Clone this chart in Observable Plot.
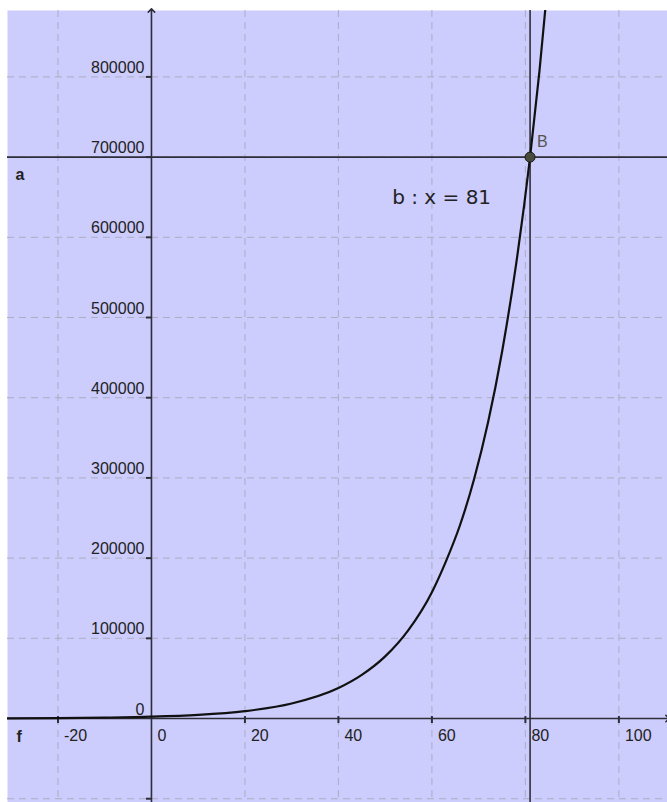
<!DOCTYPE html>
<html><head><meta charset="utf-8">
<script src="https://cdn.jsdelivr.net/npm/d3@7"></script>
<script src="https://cdn.jsdelivr.net/npm/@observablehq/plot@0.6"></script>
<style>body{margin:0;background:#fff;}</style>
</head><body><div id="chart"></div>
<script>
// curve f
const curveX = [-31, -20, -10, 0, 10, 20, 30, 40, 45, 50, 55, 60, 63, 66, 69, 72, 75, 78, 81, 83, 85];
const curveY = [300, 600, 1200, 2250, 4500, 9200, 18700, 38000, 54400, 77500, 110600, 157600, 196000, 241000, 298000, 369000, 457000, 566000, 700000, 807000, 930000];
const xGrid = [-20, 20, 40, 60, 80, 100];
const xTickLabels = ["-20", "0", "20", "40", "60", "80", "100"];
const xTickValues = [-20, 0, 20, 40, 60, 80, 100];
const yGrid = [-100000, 100000, 200000, 300000, 400000, 500000, 600000, 700000, 800000];
const yTickValues = [-100000, 0, 100000, 200000, 300000, 400000, 500000, 600000, 700000, 800000];
const yTickLabels = ["0", "100000", "200000", "300000", "400000", "500000", "600000", "700000", "800000"];
const yLabelValues = [0, 100000, 200000, 300000, 400000, 500000, 600000, 700000, 800000];
const lineA = 700000;
const lineB = 81;
const pointB = [{x: 81, y: 700000}];
const labelB = "B";
const labelEq = "b : x = 81";
const xDomain = [-30.8, 110.4];
const yDomain = [-104700, 882800];

const FONT = "Liberation Sans, Arial, sans-serif";
const AX = "#2e2e3a";

const xLab = xTickValues.map((v, i) => ({v, t: xTickLabels[i]}));
const yLab = yLabelValues.map((v, i) => ({v, t: yTickLabels[i]}));

const chart = Plot.plot({
  width: 667, height: 802,
  marginTop: 10, marginLeft: 7, marginRight: 0, marginBottom: 0,
  style: {background: "transparent", fontFamily: FONT},
  x: {domain: xDomain, axis: null},
  y: {domain: yDomain, axis: null},
  marks: [
    Plot.frame({fill: "#ccccfd", stroke: null}),
    Plot.ruleX(xGrid, {stroke: "#adadc2", strokeDasharray: "7,5", strokeWidth: 1}),
    Plot.ruleY(yGrid, {stroke: "#adadc2", strokeDasharray: "7,5", strokeWidth: 1}),
    // axes
    Plot.link([0], {x1: xDomain[0], x2: xDomain[1], y1: 0, y2: 0, stroke: AX, strokeWidth: 1.6, markerEnd: "arrow"}),
    Plot.link([0], {x1: 0, x2: 0, y1: yDomain[0], y2: yDomain[1], stroke: AX, strokeWidth: 1.6, markerEnd: "arrow"}),
    Plot.ruleX(xTickValues.filter(d => d !== 0), {y1: 0, y2: 0, insetTop: -2, insetBottom: -5, stroke: AX, strokeWidth: 2}),
    Plot.ruleY(yTickValues.filter(d => d !== 0), {x1: 0, x2: 0, insetLeft: -5, stroke: AX, strokeWidth: 2}),
    Plot.text(xLab, {x: "v", y: 0, text: "t", textAnchor: "start", dx: 6, dy: 17, fontSize: 16, fill: "#222"}),
    Plot.text(yLab, {x: 0, y: "v", text: "t", textAnchor: "end", dx: -7, dy: -9, fontSize: 16, fill: "#222"}),
    // lines a and b
    Plot.ruleY([lineA], {stroke: AX, strokeWidth: 1.6}),
    Plot.ruleX([lineB], {stroke: AX, strokeWidth: 1.6}),
    Plot.text(["a"], {frameAnchor: "left", y: lineA, text: d => d, textAnchor: "start", dx: 8, dy: 18, fontSize: 16, fontWeight: "bold", fill: "#222"}),
    Plot.text(["f"], {frameAnchor: "left", y: 0, text: d => d, textAnchor: "start", dx: 9, dy: 18, fontSize: 16, fontWeight: "bold", fill: "#222"}),
    // curve f
    Plot.line(curveX.map((x, i) => ({x, y: curveY[i]})), {x: "x", y: "y", curve: "monotone-x", stroke: "#111", strokeWidth: 2.2, clip: true}),
    // point B
    Plot.dot(pointB, {x: "x", y: "y", r: 5, fill: "#4a4a3c", stroke: "#1a1a1a", strokeWidth: 1}),
    Plot.text(pointB, {x: "x", y: "y", text: () => labelB, textAnchor: "start", dx: 7, dy: -15, fontSize: 16, fill: "#555"}),
    Plot.text(pointB, {x: "x", y: "y", text: () => labelEq, textAnchor: "end", dx: -39, dy: 40, fontSize: 20, fill: "#222", fontFamily: "DejaVu Sans, sans-serif"})
  ]
});
document.getElementById("chart").appendChild(chart);
</script>
</body></html>
